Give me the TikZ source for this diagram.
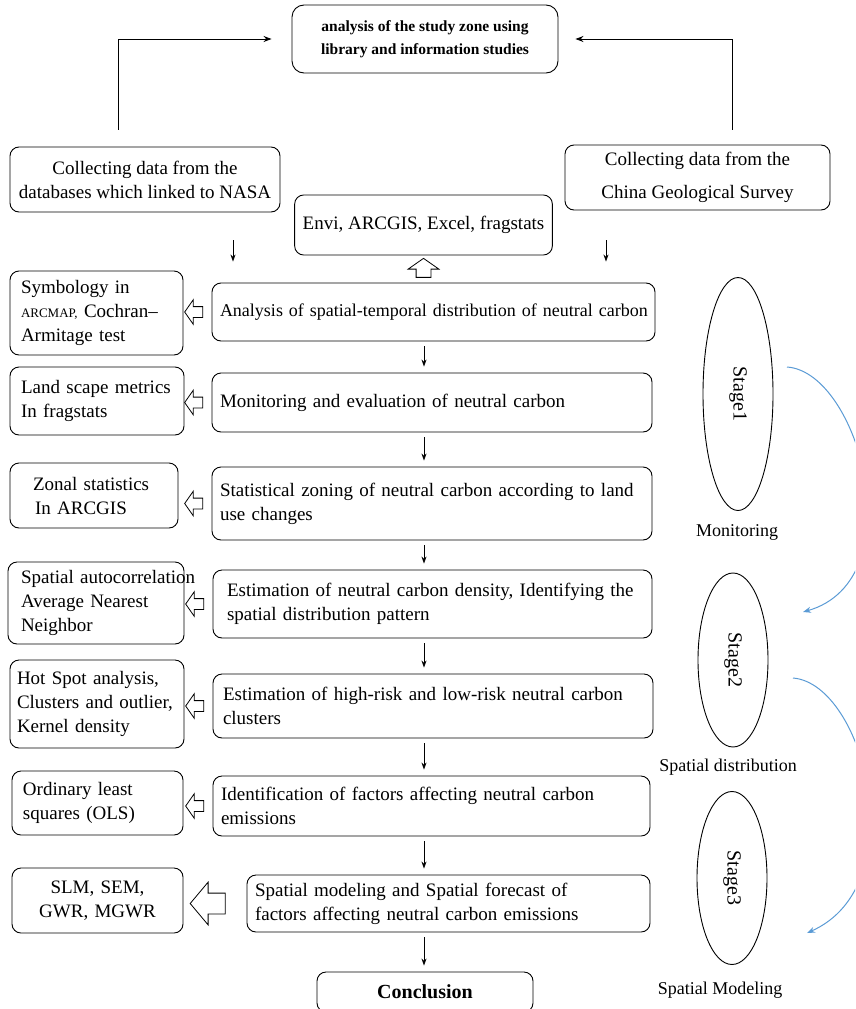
\documentclass[tikz,border=0pt]{standalone}
\usepackage{fontspec}
\setmainfont{Liberation Serif}
\usetikzlibrary{arrows.meta,shapes.geometric,shapes.arrows}
\definecolor{stageblue}{RGB}{91,155,213}
\tikzset{
  box/.style={draw, rounded corners=9pt, line width=0.9pt, inner xsep=8pt, inner ysep=0pt,
    align=left, font=\fontsize{19}{24}\selectfont},
  sidebox/.style={box, inner xsep=11pt},
  stagering/.style={draw, ellipse, line width=0.9pt, inner sep=0pt, font=\fontsize{20}{20}\selectfont},
  stagelabel/.style={font=\fontsize{18}{18}\selectfont, inner sep=0pt},
  hollowleft/.style={draw, single arrow, rotate=180, line width=0.8pt, inner xsep=0pt, inner ysep=5pt,
    minimum height=18pt, single arrow head extend=7pt, single arrow tip angle=110},
  flowarrow/.style={-{Stealth[length=7pt,width=5pt]}, line width=0.8pt, shorten <=5pt, shorten >=6pt},
  bendarrow/.style={-{Stealth[length=8pt,width=6pt]}, stageblue, line width=1pt}
}
\begin{document}
\begin{tikzpicture}[x=1pt,y=-1pt]
  \useasboundingbox (0,0) rectangle (855,1009);
  \clip (0,0) rectangle (855,1009);
  % top of the chart
  \node[box, rounded corners=12pt, align=center, minimum width=266pt, minimum height=68pt,
    font=\bfseries\fontsize{15.5}{23}\selectfont] (T) at (425,39)
    {analysis of the study zone using\\library and information studies};
  \node[box, align=center, minimum width=270pt, minimum height=65pt] (C1) at (145,179.5)
    {Collecting data from the\\databases which linked to NASA};
  \node[box, align=center, minimum width=265pt, minimum height=65pt] (C2) at (697.5,177.5)
    {Collecting data from the\\[9pt]China Geological Survey};
  \node[box, align=center, minimum width=253pt, minimum height=60pt] (E) at (423.5,225)
    {Envi, ARCGIS, Excel, fragstats};
  \draw[-{Stealth[length=8pt,width=6pt]}, line width=0.9pt, shorten <=17pt, shorten >=20pt]
    ([xshift=-27pt]C1.north) |- (T.west);
  \draw[-{Stealth[length=8pt,width=6pt]}, line width=0.9pt, shorten <=15pt, shorten >=17pt]
    ([xshift=35pt]C2.north) |- (T.east);
  % main column
  \node[box, text width=427pt, minimum height=58pt, font=\fontsize{18}{24}\selectfont] (b1) at (433.5,312)
    {\mbox{Analysis of spatial-temporal distribution of neutral carbon}};
  \node[box, text width=424pt, minimum height=59pt] (b2) at (432,402.5)
    {Monitoring and evaluation of neutral carbon};
  \node[box, text width=424pt, minimum height=73pt] (b3) at (432,503.5)
    {\mbox{Statistical zoning of neutral carbon according to land}\\use changes};
  \node[box, inner xsep=14pt, text width=411pt, minimum height=68pt] (b4) at (432.5,604)
    {\mbox{Estimation of neutral carbon density, Identifying the}\\spatial distribution pattern};
  \node[box, inner xsep=10pt, text width=420pt, minimum height=64pt] (b5) at (433,706)
    {Estimation of high-risk and low-risk neutral carbon\\clusters};
  \node[box, text width=421pt, minimum height=60pt] (b6) at (431.5,806)
    {Identification of factors affecting neutral carbon\\emissions};
  \node[box, text width=387pt, minimum height=57pt] (b7) at (448.5,903.5)
    {Spatial modeling and Spatial forecast of\\\mbox{factors affecting neutral carbon emissions}};
  \node[box, align=center, text width=200pt, minimum height=40pt,
    font=\bfseries\fontsize{20}{24}\selectfont] (b8) at (425,992) {Conclusion};
  % side column
  \node[sidebox, text width=151pt, minimum height=84pt] (L1) at (96.5,313)
    {Symbology in\\{\fontsize{13}{13}\selectfont ARCMAP,} Cochran–\\Armitage test};
  \node[sidebox, text width=152pt, minimum height=68pt] (L2) at (97,401)
    {Land scape metrics\\In fragstats\\[4pt]};
  \node[sidebox, inner xsep=23pt, text width=122pt, minimum height=65pt] (L3) at (94,495.5)
    {Zonal statistics\\\hspace*{2pt}In ARCGIS};
  \node[sidebox, inner xsep=13pt, text width=150pt, minimum height=82pt] (L4) at (96,603)
    {\mbox{Spatial autocorrelation}\\Average Nearest\\Neighbor};
  \node[sidebox, inner xsep=7pt, text width=160pt, minimum height=88pt] (L5) at (97,704)
    {Hot Spot analysis,\\Clusters and outlier,\\Kernel density};
  \node[sidebox, text width=149pt, minimum height=64pt] (L6) at (97.5,803)
    {Ordinary least\\squares (OLS)};
  \node[sidebox, align=center, text width=149pt, minimum height=65pt] (L7) at (97.5,900.5)
    {SLM, SEM,\\GWR, MGWR};
  % hollow arrows
  \foreach \i in {1,...,6}
    \node[hollowleft] (h\i) at ([xshift=-16pt]b\i.west) {};
  \node[hollowleft, inner ysep=10pt, minimum height=35pt, single arrow head extend=11pt,
    single arrow tip angle=100] (h7) at ([xshift=-34.5pt]b7.west) {};
  \node[hollowleft, rotate=-90, inner ysep=7pt, minimum height=19pt, single arrow head extend=8pt]
    (hu) at ([yshift=-15pt]E.south) {};
  % down arrows
  \coordinate (fx) at (424,0);
  \coordinate (dl) at (233,0);
  \coordinate (dr) at (606,0);
  \draw[flowarrow, shorten <=28pt, shorten >=21pt] (C1.south -| dl) -- (b1.north -| dl);
  \draw[flowarrow, shorten <=30pt, shorten >=21pt] (C2.south -| dr) -- (b1.north -| dr);
  \foreach \a/\b in {b1/b2,b2/b3,b3/b4,b4/b5,b5/b6,b6/b7,b7/b8}
    \draw[flowarrow] (\a.south -| fx) -- (\b.north -| fx);
  % stages
  \node[stagering, rotate=-90, minimum width=233pt, minimum height=70pt] (st1) at (738,394) {Stage1};
  \node[stagering, rotate=-90, minimum width=174pt, minimum height=70pt] (st2) at (733,660) {Stage2};
  \node[stagering, rotate=-90, minimum width=173pt, minimum height=70pt] (st3) at (732,878) {Stage3};
  \node[stagelabel] (m1) at (737,532) {Monitoring};
  \node[stagelabel] (m2) at (728,767) {Spatial distribution};
  \node[stagelabel] (m3) at (720,990) {Spatial Modeling};
  \coordinate (u1) at (787,367);
  \coordinate (v1) at (803,612);
  \coordinate (u2) at (793,678);
  \coordinate (v2) at (807,933);
  \draw[bendarrow] (u1) .. controls (860,372) and (915,580) .. (v1);
  \draw[bendarrow] (u2) .. controls (865,684) and (915,885) .. (v2);
\end{tikzpicture}
\end{document}
